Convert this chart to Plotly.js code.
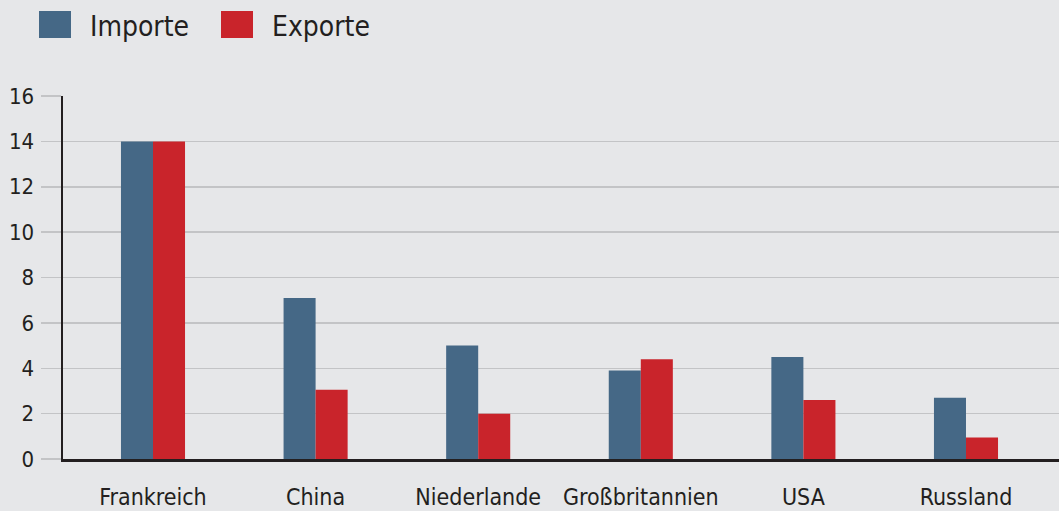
<!DOCTYPE html>
<html>
<head>
<meta charset="utf-8">
<script src="https://cdn.plot.ly/plotly-3.0.1.min.js"></script>
<style>
html,body{margin:0;padding:0;background:#e6e7e9;}
#chart{width:1059px;height:511px;}
</style>
</head>
<body>
<div id="chart"></div>
<script>
const categories = ["Frankreich", "China", "Niederlande", "Großbritannien", "USA", "Russland"];
const importe = [14.0, 7.1, 5.0, 3.9, 4.5, 2.7];
const exporte = [14.0, 3.05, 2.0, 4.4, 2.6, 0.95];
const seriesNames = ["Importe", "Exporte"];
const seriesColors = ["#456886", "#c9242b"];
const yTicks = [0, 2, 4, 6, 8, 10, 12, 14, 16];

const FONT = '"DejaVu Sans Condensed", "Liberation Sans Narrow", "DejaVu Sans", sans-serif';
const TEXT = "#231f20";

const traces = [
  {type: "bar", name: seriesNames[0], x: categories, y: importe,
   marker: {color: seriesColors[0], line: {width: 0}}, hoverinfo: "x+y"},
  {type: "bar", name: seriesNames[1], x: categories, y: exporte,
   marker: {color: seriesColors[1], line: {width: 0}}, hoverinfo: "x+y"}
];

// custom legend (large square swatches like the reference)
const legendX = [39, 221];
const shapes = [];
const annotations = [];
seriesNames.forEach((n, i) => {
  shapes.push({type: "rect", xref: "paper", yref: "paper",
    x0: (legendX[i] - 63) / 996, x1: (legendX[i] + 32 - 63) / 996,
    y0: (459 - 38) / 363, y1: (459 - 11) / 363,
    fillcolor: seriesColors[i], line: {width: 0}});
  annotations.push({xref: "paper", yref: "paper",
    x: (legendX[i] + 49 - 63) / 996, y: (459 - 26) / 363,
    xanchor: "left", yanchor: "middle", showarrow: false,
    text: n, font: {family: FONT, size: 28, color: TEXT}});
});

const layout = {
  width: 1059, height: 511,
  margin: {l: 63, r: 0, t: 96, b: 52, pad: 0},
  paper_bgcolor: "#e6e7e9",
  plot_bgcolor: "#e6e7e9",
  showlegend: false,
  barmode: "group",
  bargap: 0.606,
  bargroupgap: 0,
  font: {family: FONT, size: 22, color: TEXT},
  xaxis: {
    type: "category",
    range: [-0.5535, 5.572],
    showgrid: false,
    showline: true, linecolor: TEXT, linewidth: 3,
    ticks: "outside", ticklen: 15, tickcolor: "rgba(0,0,0,0)",
    tickfont: {family: FONT, size: 23, color: TEXT},
    fixedrange: true
  },
  yaxis: {
    range: [0, 16],
    tickvals: yTicks,
    ticktext: yTicks.map(String),
    showgrid: true, gridcolor: "#c3c4c6", gridwidth: 1.5,
    zeroline: false,
    showline: true, linecolor: TEXT, linewidth: 2.5,
    ticks: "outside", ticklen: 20, tickcolor: "#c3c4c6", tickwidth: 1.5,
    ticklabelstandoff: 2,
    tickfont: {family: FONT, size: 22, color: TEXT},
    fixedrange: true
  },
  shapes: shapes,
  annotations: annotations
};

Plotly.newPlot("chart", traces, layout, {displayModeBar: false, staticPlot: true});
</script>
</body>
</html>
